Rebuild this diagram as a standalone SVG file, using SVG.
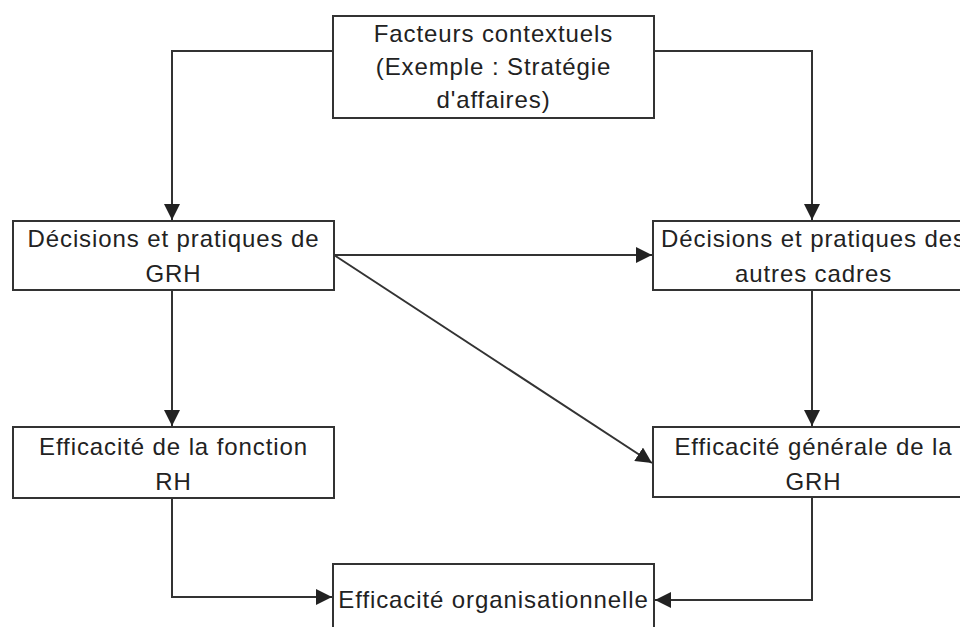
<svg xmlns="http://www.w3.org/2000/svg" width="960" height="627" viewBox="0 0 960 627">
  <style>
    .box { fill: #ffffff; stroke: #333333; stroke-width: 2; }
    .lbl { font-family: "Liberation Sans", Arial, sans-serif; font-size: 24px; fill: #222222; text-anchor: middle; letter-spacing: 0.9px; }
    .edge { fill: none; stroke: #333333; stroke-width: 2; }
  </style>
  <defs>
    <marker id="arrow" markerWidth="16" markerHeight="16" refX="16" refY="8" orient="auto" markerUnits="userSpaceOnUse">
      <path d="M0,0 L16,8 L0,16 Z" fill="#222222"/>
    </marker>
  </defs>
  <rect width="960" height="627" fill="#ffffff"/>

  <g id="connectors">
    <path class="edge" d="M333,51 H172 V220" marker-end="url(#arrow)"/>
    <path class="edge" d="M654,51 H812 V220" marker-end="url(#arrow)"/>
    <path class="edge" d="M334,255 H652" marker-end="url(#arrow)"/>
    <path class="edge" d="M334,255 L652,463" marker-end="url(#arrow)"/>
    <path class="edge" d="M172,290 V426" marker-end="url(#arrow)"/>
    <path class="edge" d="M812,290 V426" marker-end="url(#arrow)"/>
    <path class="edge" d="M172,498 V597 H332" marker-end="url(#arrow)"/>
    <path class="edge" d="M812,497 V600 H655" marker-end="url(#arrow)"/>
  </g>

  <g id="facteurs">
    <rect class="box" x="333" y="16" width="321" height="102"/>
    <text class="lbl" x="493.5" y="42">Facteurs contextuels</text>
    <text class="lbl" x="493.5" y="75">(Exemple : Stratégie</text>
    <text class="lbl" x="493.5" y="108">d'affaires)</text>
  </g>

  <g id="decisions-grh">
    <rect class="box" x="13" y="221" width="321" height="69"/>
    <text class="lbl" x="173.5" y="247">Décisions et pratiques de</text>
    <text class="lbl" x="173.5" y="282">GRH</text>
  </g>

  <g id="decisions-cadres">
    <rect class="box" x="653" y="221" width="321" height="69"/>
    <text class="lbl" x="813.5" y="247">Décisions et pratiques des</text>
    <text class="lbl" x="813.5" y="282">autres cadres</text>
  </g>

  <g id="efficacite-fonction">
    <rect class="box" x="13" y="427" width="321" height="71"/>
    <text class="lbl" x="173.5" y="455">Efficacité de la fonction</text>
    <text class="lbl" x="173.5" y="490">RH</text>
  </g>

  <g id="efficacite-generale">
    <rect class="box" x="653" y="427" width="321" height="70"/>
    <text class="lbl" x="813.5" y="455">Efficacité générale de la</text>
    <text class="lbl" x="813.5" y="490">GRH</text>
  </g>

  <g id="efficacite-organisationnelle">
    <rect class="box" x="333" y="564" width="321" height="80"/>
    <text class="lbl" x="493.5" y="608">Efficacité organisationnelle</text>
  </g>
</svg>
